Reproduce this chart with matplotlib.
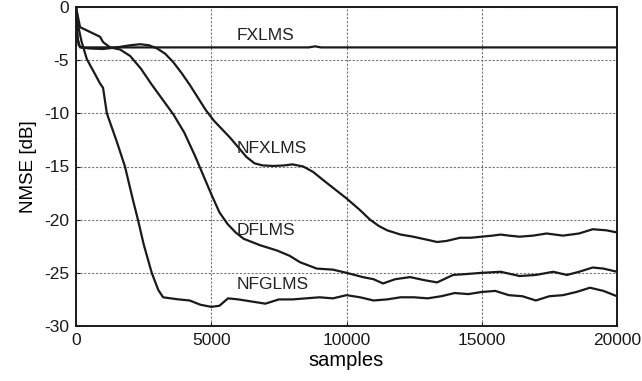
import matplotlib
matplotlib.use("Agg")
import matplotlib.pyplot as plt

plt.rcParams['font.family'] = ['Liberation Sans', 'DejaVu Sans']

# ---- data ----
fx_x = [0, 40, 100, 200, 8600, 8840, 9050, 20000]
fx_y = [0, -2.5, -3.6, -3.8, -3.8, -3.7, -3.8, -3.8]

nfx_x = [0, 60, 150, 500, 1000, 1500, 2000, 2370, 2700, 3000, 3300, 3600, 3900,
         4200, 4500, 4800, 5100, 5400, 5700, 6000, 6300, 6600, 6900, 7300, 7700,
         8000, 8400, 8760, 9100, 9500, 10000, 10500, 10870, 11200, 11500, 12000,
         12460, 13000, 13350, 13700, 14200, 14600, 15000, 15400, 15700, 16000,
         16400, 16900, 17400, 18000, 18600, 19100, 19600, 20000]
nfx_y = [0, -3.0, -3.8, -3.9, -3.95, -3.8, -3.6, -3.5, -3.6, -3.9, -4.4, -5.2, -6.2,
         -7.3, -8.5, -9.7, -10.7, -11.5, -12.3, -13.2, -14.1, -14.7, -14.9, -14.95, -14.9,
         -14.8, -15.0, -15.5, -16.2, -17.0, -18.0, -19.1, -20.0, -20.6, -21.0, -21.4,
         -21.6, -21.9, -22.1, -22.0, -21.7, -21.7, -21.6, -21.5, -21.4, -21.5,
         -21.6, -21.5, -21.3, -21.5, -21.3, -20.9, -21.0, -21.2]

df_x = [0, 150, 400, 890, 1000, 1260, 1630, 2000, 2400, 2800, 3200, 3600, 4000,
        4400, 4700, 5000, 5300, 5600, 5900, 6200, 6800, 7430, 7900, 8280, 8900,
        9500, 10000, 10600, 11000, 11350, 11800, 12350, 12900, 13350, 13940,
        14500, 15000, 15700, 16400, 17000, 17640, 18150, 18600, 19100, 19500, 20000]
df_y = [0, -1.9, -2.2, -2.8, -3.3, -3.8, -4.0, -4.6, -5.8, -7.3, -8.7, -10.1, -11.8,
        -14.0, -15.8, -17.6, -19.3, -20.4, -21.2, -21.8, -22.4, -22.9, -23.4, -24.0, -24.6,
        -24.7, -25.0, -25.4, -25.6, -26.0, -25.6, -25.4, -25.7, -25.9, -25.2,
        -25.1, -25.0, -24.9, -25.3, -25.2, -24.9, -25.2, -24.9, -24.5, -24.6, -24.9]

nfg_x = [0, 100, 200, 400, 700, 890, 1000, 1140, 1500, 1810, 2110, 2290, 2500,
         2800, 3040, 3220, 3500, 3800, 4200, 4600, 5000, 5300, 5620, 6000, 6500,
         7000, 7500, 8000, 8500, 9000, 9500, 10000, 10500, 11000, 11500, 12000,
         12500, 13000, 13500, 14000, 14500, 15000, 15500, 16000, 16500, 17000,
         17500, 18000, 18500, 19000, 19500, 20000]
nfg_y = [0, -2.0, -3.2, -4.9, -6.3, -7.2, -7.6, -10.0, -12.6, -15.0, -18.2, -20.0, -22.3,
         -25.0, -26.6, -27.3, -27.4, -27.5, -27.6, -28.0, -28.2, -28.1, -27.4, -27.5, -27.7,
         -27.9, -27.5, -27.5, -27.4, -27.3, -27.4, -27.1, -27.3, -27.6, -27.5, -27.3,
         -27.3, -27.4, -27.2, -26.9, -27.0, -26.8, -26.7, -27.1, -27.2, -27.6,
         -27.2, -27.1, -26.8, -26.4, -26.7, -27.2]

labels = ["FXLMS", "NFXLMS", "DFLMS", "NFGLMS"]
label_pos = [(5950, -3.1), (5950, -13.75), (5950, -21.45), (5950, -26.5)]

x_ticks = [0, 5000, 10000, 15000, 20000]
y_ticks = [0, -5, -10, -15, -20, -25, -30]

# ---- figure ----
fig = plt.figure(figsize=(6.42, 3.81), dpi=100)
ax = fig.add_axes([76/642, 1-326/381, (617-76)/642, (326-7)/381])

for xs, ys in [(fx_x, fx_y), (nfx_x, nfx_y), (df_x, df_y), (nfg_x, nfg_y)]:
    ax.plot(xs, ys, color='#1a1a1a', lw=1.6, zorder=3)

for lab, (lx, ly) in zip(labels, label_pos):
    ax.text(lx, ly, lab, fontsize=12.5, ha='left', va='baseline', color='#222222', zorder=4)

ax.set_xlim(0, 20000)
ax.set_ylim(-30, 0)
ax.set_xticks(x_ticks)
ax.set_yticks(y_ticks)
ax.set_xticklabels([str(v) for v in x_ticks])
ax.set_yticklabels([str(v) for v in y_ticks])
ax.tick_params(direction='in', length=3, labelsize=12.5, pad=5, colors='#1a1a1a')
ax.grid(True, color='#777777', linestyle=(0, (2, 1.5)), lw=0.8)
for s in ax.spines.values():
    s.set_linewidth(1.4)
    s.set_color('#1a1a1a')

ax.set_xlabel('samples', fontsize=14.5, labelpad=2)
ax.set_ylabel('NMSE [dB]', fontsize=13.5, labelpad=5)

fig.savefig('out.png', dpi=100)
